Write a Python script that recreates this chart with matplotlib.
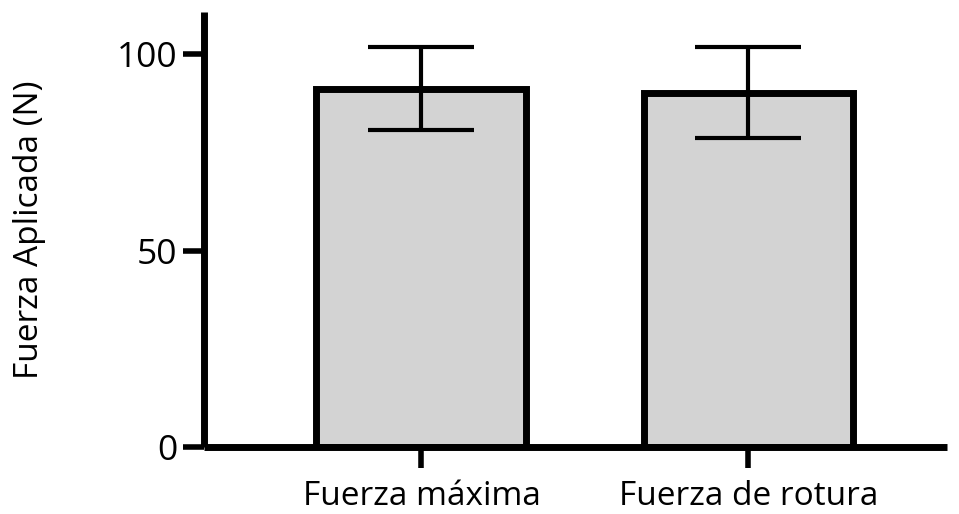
import matplotlib
matplotlib.use("Agg")
import matplotlib.pyplot as plt

categories = ["Fuerza máxima", "Fuerza de rotura"]
means = [91.2, 90.2]
errors = [10.5, 11.5]
yticks = [0, 50, 100]

plt.rcParams['font.family'] = ['Open Sans', 'DejaVu Sans']

fig = plt.figure(figsize=(9.59, 5.14), dpi=100)
ax = fig.add_axes([204/959, 1-447/514, (947-204)/959, (447-12)/514])

x = list(range(len(categories)))
ax.bar(x, means, width=0.642, color='#D3D3D3', edgecolor='black', linewidth=5, zorder=2)
ax.errorbar(x, means, yerr=errors, fmt='none', ecolor='black', elinewidth=3,
            capsize=38, capthick=3, zorder=3)

ax.set_xlim(-0.665, 1.607)
ax.set_ylim(0, 110.7)
ax.set_yticks(yticks)
ax.set_xticks(x)
ax.set_xticklabels(categories)

for s in ['top', 'right']:
    ax.spines[s].set_visible(False)
for s in ['left', 'bottom']:
    ax.spines[s].set_linewidth(5)
    ax.spines[s].set_capstyle('butt')

ax.tick_params(axis='both', length=15, width=4, direction='out')
ax.tick_params(axis='y', pad=4, labelsize=25.5)
ax.tick_params(axis='x', pad=9, labelsize=24)
ax.set_ylabel("Fuerza Aplicada (N)", fontsize=24, labelpad=51)

fig.savefig("out.png", dpi=100)
